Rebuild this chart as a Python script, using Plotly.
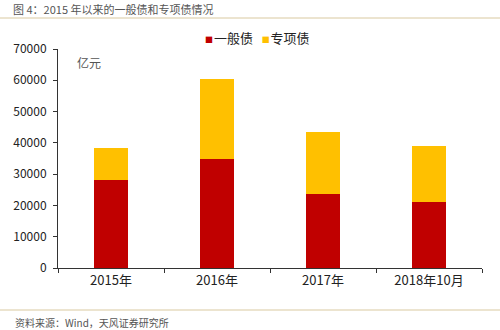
import plotly.graph_objects as go

categories = ["2015年", "2016年", "2017年", "2018年10月"]
general = [28000, 35000, 23700, 21000]
special = [10400, 25400, 19800, 18000]
tick_vals = [0, 10000, 20000, 30000, 40000, 50000, 60000, 70000]
tick_text = [str(v) for v in tick_vals]
colors = ["#C00000", "#FFC000"]
names = ["一般债", "专项债"]

fig = go.Figure()
fig.add_trace(go.Bar(x=categories, y=general, name=names[0], showlegend=False,
                     marker=dict(color=colors[0], line=dict(width=0))))
fig.add_trace(go.Bar(x=categories, y=special, name=names[1], showlegend=False,
                     marker=dict(color=colors[1], line=dict(width=0))))

font = "Noto Sans CJK SC, Liberation Sans, sans-serif"
fig.update_layout(
    barmode="stack",
    bargap=0.67,
    width=500, height=330,
    margin=dict(l=58, r=18, t=49, b=62),
    paper_bgcolor="white", plot_bgcolor="white",
    font=dict(family=font, size=12, color="#222"),
    showlegend=False,
    xaxis=dict(showline=True, linecolor="#333", linewidth=1, ticks="outside", tickson="boundaries",
               ticklen=4, tickcolor="#333", tickfont=dict(size=13, color="#222"), showgrid=False),
    yaxis=dict(range=[0, 70000], tickvals=tick_vals, ticktext=tick_text, showline=True,
               linecolor="#333", linewidth=1,
               ticks="outside", ticklen=4, tickcolor="#333", showgrid=False, zeroline=False,
               tickfont=dict(size=12, color="#222"), ticklabelstandoff=4),
)
legend_text = "&nbsp;&nbsp;&nbsp;".join(
    f"<span style='color:{c};font-size:8px'>■</span><span style='font-size:4px'> </span>"
    f"<span style='font-size:13px'>{n}</span>"
    for n, c in zip(names, colors))
fig.add_annotation(text=legend_text, xref="paper", yref="paper", x=0.47, y=1.0 + 12/219,
                   xanchor="center", yanchor="middle", showarrow=False,
                   font=dict(size=13, color="#222"))
fig.add_annotation(text="亿元", xref="paper", yref="paper", x=0.04, y=0.985, showarrow=False,
                   xanchor="left", yanchor="top", font=dict(size=12, color="#555"))
fig.add_annotation(text="图 4：2015 年以来的一般债和专项债情况", xref="paper", yref="paper",
                   x=-0.112, y=1.0 + 40/219, xanchor="left", yanchor="middle", showarrow=False,
                   font=dict(size=11, color="#555"))
fig.add_annotation(text="资料来源：Wind，天风证券研究所", xref="paper", yref="paper",
                   x=-0.105, y=-54/219, xanchor="left", yanchor="middle", showarrow=False,
                   font=dict(size=10, color="#555"))
fig.add_shape(type="line", xref="paper", yref="paper", x0=-0.137, x1=1.045,
              y0=1.0 + 31/219, y1=1.0 + 31/219, line=dict(color="#D9C9A0", width=1))
fig.add_shape(type="line", xref="paper", yref="paper", x0=-0.137, x1=1.045,
              y0=-42/219, y1=-42/219, line=dict(color="#D9C9A0", width=1))

fig.write_html("out.html")
